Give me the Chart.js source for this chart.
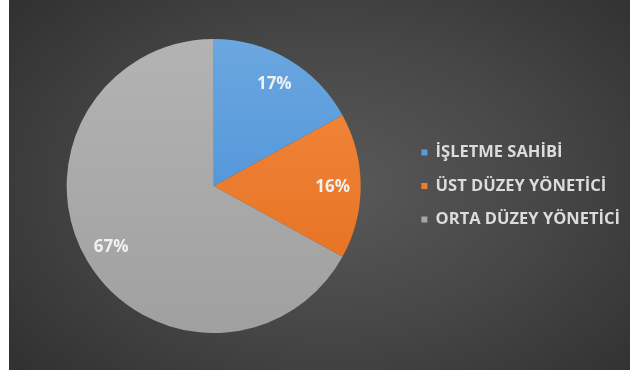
<!DOCTYPE html>
<html lang="tr">
<head>
  <meta charset="UTF-8" />
  <title>Pozisyon Dağılımı</title>
  <script src="https://cdn.jsdelivr.net/npm/chart.js"></script>
  <style>
    body {
      margin: 0;
      background: #fff;
      width: 630px;
      height: 385px;
      overflow: hidden;
      position: relative;
    }

    .panel {
      position: absolute;
      left: 9px;
      top: 0;
      width: 621px;
      height: 370px;
      background: radial-gradient(ellipse 75% 85% at 52% 50%, #595959 0%, #474747 45%, #333 85%, #2d2d2d 100%);
    }
  </style>
</head>
<body>
  <div class="panel">
    <canvas id="pie"></canvas>
  </div>

  <script>
    const categories = ['İŞLETME SAHİBİ', 'ÜST DÜZEY YÖNETİCİ', 'ORTA DÜZEY YÖNETİCİ'];
    const shares = [17, 16, 67];
    const topColors = ['#6ba7e0', '#f38b40', '#b3b3b3'];
    const bottomColors = ['#3f89d4', '#e46c1c', '#a0a0a0'];
    const baseColors = ['#5b9bd5', '#ed7d31', '#a5a5a5'];

    // light-to-dark vertical shading across the pie, one per slice colour
    function sliceFill(ctx) {
      const chart = ctx.chart;
      const area = chart.chartArea;
      const i = ctx.dataIndex;
      if (!area) return baseColors[i];
      const g = chart.ctx.createLinearGradient(0, area.top, 0, area.bottom);
      g.addColorStop(0, topColors[i]);
      g.addColorStop(1, bottomColors[i]);
      return g;
    }

    // percentage labels inside each slice
    const sliceLabels = {
      id: 'sliceLabels',
      afterDatasetsDraw(chart) {
        const ctx = chart.ctx;
        const meta = chart.getDatasetMeta(0);
        ctx.save();
        ctx.font = 'bold 17px "Open Sans"';
        ctx.fillStyle = '#f0f0f0';
        ctx.textAlign = 'center';
        ctx.textBaseline = 'middle';
        meta.data.forEach((arc, i) => {
          const p = arc.getProps(['x', 'y', 'startAngle', 'endAngle', 'outerRadius'], true);
          const mid = (p.startAngle + p.endAngle) / 2;
          const r = p.outerRadius * 0.81;
          ctx.fillText(shares[i] + '%', p.x + Math.cos(mid) * r, p.y + Math.sin(mid) * r + 1);
        });
        ctx.restore();
      }
    };

    new Chart(document.getElementById('pie'), {
      type: 'pie',
      data: {
        labels: categories,
        datasets: [{
          data: shares,
          backgroundColor: sliceFill,
          borderWidth: 0
        }]
      },
      options: {
        responsive: true,
        maintainAspectRatio: false,
        animation: false,
        layout: {
          padding: { left: 14, top: 39, bottom: 37, right: 0 }
        },
        plugins: {
          tooltip: { enabled: false },
          legend: {
            position: 'right',
            labels: {
              boxWidth: 6,
              boxHeight: 6,
              padding: 17,
              color: '#dcdcdc',
              font: { family: '"Open Sans"', size: 16.5, weight: 'bold' },
              generateLabels(chart) {
                return categories.map((text, i) => ({
                  text,
                  fillStyle: baseColors[i],
                  strokeStyle: baseColors[i],
                  lineWidth: 0,
                  fontColor: '#dcdcdc',
                  index: i
                }));
              }
            }
          }
        }
      },
      plugins: [sliceLabels]
    });
  </script>
</body>
</html>
